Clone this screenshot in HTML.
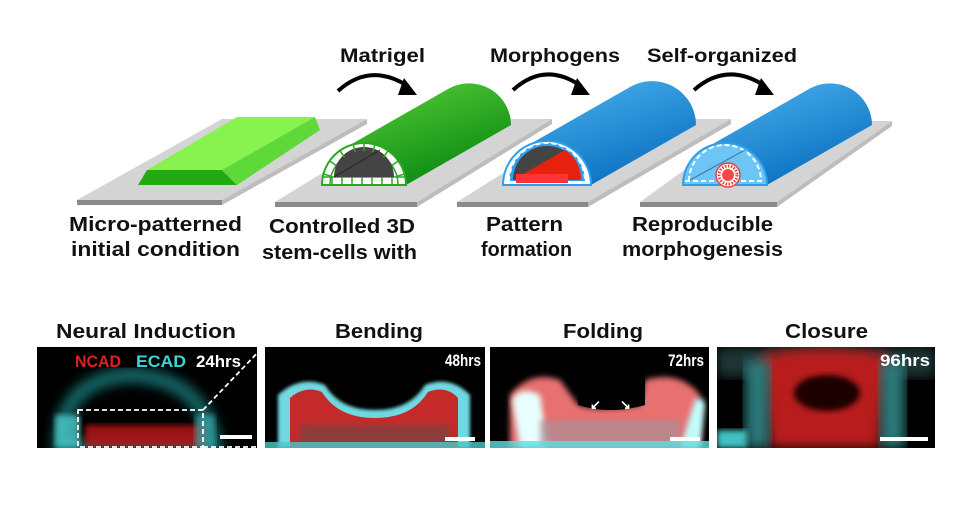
<!DOCTYPE html>
<html><head><meta charset="utf-8"><style>
html,body{margin:0;padding:0;background:#fff;}
svg{display:block;}
text{font-family:"Liberation Sans",sans-serif;font-weight:bold;fill:#111;}
</style></head><body>
<svg width="963" height="512" viewBox="0 0 963 512" xmlns="http://www.w3.org/2000/svg">
<defs>
<linearGradient id="gg" x1="0" y1="0" x2="0.6" y2="1"><stop offset="0" stop-color="#5fd43c"/><stop offset="1" stop-color="#0b8a12"/></linearGradient>
<linearGradient id="bg" x1="0" y1="0" x2="0.6" y2="1"><stop offset="0" stop-color="#52b9f2"/><stop offset="1" stop-color="#0a70c2"/></linearGradient>
<filter id="b3"><feGaussianBlur stdDeviation="3"/></filter>
<filter id="b6"><feGaussianBlur stdDeviation="6"/></filter>
<filter id="b2"><feGaussianBlur stdDeviation="1.5"/></filter>
<clipPath id="c1"><rect x="37" y="347" width="220" height="101"/></clipPath>
<clipPath id="c2"><rect x="265" y="347" width="220" height="101"/></clipPath>
<clipPath id="c3"><rect x="490" y="347" width="219" height="101"/></clipPath>
<clipPath id="c4"><rect x="717" y="347" width="218" height="101"/></clipPath>
</defs>

<!-- plates -->
<g>
<polygon points="222,119 367,119 222,200 77,200" fill="#d4d4d4"/>
<polygon points="77,200 222,200 222,205 77,205" fill="#8a8a8a"/>
<polygon points="367,119 367,124 222,205 222,200" fill="#bdbdbd"/>

<polygon points="410,119 552,119 417,202 275,202" fill="#d4d4d4"/>
<polygon points="275,202 417,202 417,207 275,207" fill="#8a8a8a"/>
<polygon points="552,119 552,124 417,207 417,202" fill="#bdbdbd"/>

<polygon points="590,119 731,119 588,202 457,202" fill="#d4d4d4"/>
<polygon points="457,202 588,202 588,207 457,207" fill="#8a8a8a"/>
<polygon points="731,119 731,124 588,207 588,202" fill="#bdbdbd"/>

<polygon points="752,121 892,121 777,202 640,202" fill="#d4d4d4"/>
<polygon points="640,202 777,202 777,207 640,207" fill="#8a8a8a"/>
<polygon points="892,121 892,126 777,207 777,202" fill="#bdbdbd"/>
</g>

<!-- slab 1 -->
<polygon points="147,170 222,170 315,117 237,117" fill="#88f24f"/>
<polygon points="138,185 237,185 222,170 147,170" fill="#22aa10"/>
<polygon points="222,170 237,185 320,130 315,117" fill="#5fd93a"/>

<!-- tube 2 green -->
<path d="M322,185 A42,42 0 0 1 343,149 L448,89 A42,42 0 0 1 511,125 L406,185 Z" fill="url(#gg)"/>
<path d="M322,185 A42,42 0 0 1 406,185 Z" fill="#fff" stroke="#2aa820" stroke-width="2"/>
<path d="M330,185 A34,34 0 0 1 398,185" fill="none" stroke="#2aa820" stroke-width="1.5"/>
<line x1="322" y1="177" x2="406" y2="177" stroke="#2aa820" stroke-width="1.5"/>
<path d="M334,177 A30,30 0 0 1 394,177 Z" fill="#444"/>
<line x1="334" y1="177" x2="380" y2="150" stroke="#222" stroke-width="1"/>
<g stroke="#2aa820" stroke-width="1.5">
<line x1="332" y1="177" x2="332" y2="185"/><line x1="342" y1="177" x2="342" y2="185"/><line x1="352" y1="177" x2="352" y2="185"/><line x1="362" y1="177" x2="362" y2="185"/><line x1="372" y1="177" x2="372" y2="185"/><line x1="382" y1="177" x2="382" y2="185"/><line x1="392" y1="177" x2="392" y2="185"/>
<line x1="396.8" y1="176.2" x2="404.6" y2="174.1"/><line x1="391.8" y1="165.5" x2="398.4" y2="160.9"/><line x1="383.5" y1="157.2" x2="388.1" y2="150.6"/><line x1="372.8" y1="152.2" x2="374.9" y2="144.4"/><line x1="364" y1="151" x2="364" y2="143"/><line x1="355.2" y1="152.2" x2="353.1" y2="144.4"/><line x1="344.5" y1="157.2" x2="339.9" y2="150.6"/><line x1="336.2" y1="165.5" x2="329.6" y2="160.9"/><line x1="331.2" y1="176.2" x2="323.4" y2="174.1"/>
</g>

<!-- tube 3 blue -->
<path d="M503,185 A44,44 0 0 1 525,147 L630,87 A44,44 0 0 1 696,125 L591,185 Z" fill="url(#bg)"/>
<path d="M503,185 A44,44 0 0 1 591,185 Z" fill="#fff" stroke="#2d9fee" stroke-width="2"/>
<path d="M509,181 A38,38 0 0 1 585,181 Z" fill="#2d9fee"/>
<path d="M513,180 A34,34 0 0 1 581,180 Z" fill="#444"/>
<path d="M513,180 L565,150 A34,34 0 0 1 581,180 Z" fill="#e8210f"/>
<rect x="516" y="174" width="52" height="9" fill="#f33"/>
<path d="M509,181 A38,38 0 0 1 585,181" fill="none" stroke="#fff" stroke-width="2" stroke-dasharray="5,3"/>

<!-- tube 4 blue -->
<path d="M683,185 A42,42 0 0 1 704,149 L809,89 A42,42 0 0 1 872,125 L767,185 Z" fill="url(#bg)"/>
<path d="M683,185 A42,42 0 0 1 767,185 Z" fill="#6cc5f4" stroke="#2d9fee" stroke-width="2"/>
<path d="M689,181 A36,36 0 0 1 761,181" fill="none" stroke="#fff" stroke-width="2" stroke-dasharray="5,3"/>
<line x1="685" y1="181" x2="765" y2="181" stroke="#fff" stroke-width="2" stroke-dasharray="5,3"/>
<line x1="690" y1="180" x2="745" y2="150" stroke="#3a7aa8" stroke-width="1"/>
<circle cx="728" cy="175" r="12" fill="#fff" stroke="#e84040" stroke-width="1.5"/>
<circle cx="728" cy="175" r="9" fill="none" stroke="#e84040" stroke-width="3" stroke-dasharray="1.5,1.5"/>
<circle cx="728" cy="175" r="6" fill="#f24848"/>

<!-- arrows -->
<g fill="none" stroke="#000" stroke-width="4">
<path d="M338,91 Q370,62 408,86"/>
<path d="M513,90 Q545,61 581,86"/>
<path d="M694,90 Q727,61 765,86"/>
</g>
<polygon points="404,78 417,95 398,95" fill="#000"/>
<polygon points="577,78 590,95 571,95" fill="#000"/>
<polygon points="761,78 774,95 755,95" fill="#000"/>

<text x="340" y="62" font-size="19" textLength="85" lengthAdjust="spacingAndGlyphs">Matrigel</text>
<text x="490" y="62" font-size="19" textLength="130" lengthAdjust="spacingAndGlyphs">Morphogens</text>
<text x="647" y="62" font-size="19" textLength="150" lengthAdjust="spacingAndGlyphs">Self-organized</text>

<g font-size="20">
<text x="69" y="231" textLength="173" lengthAdjust="spacingAndGlyphs">Micro-patterned</text>
<text x="71" y="256" textLength="169" lengthAdjust="spacingAndGlyphs">initial condition</text>
<text x="269" y="233" textLength="146" lengthAdjust="spacingAndGlyphs">Controlled 3D</text>
<text x="262" y="259" textLength="155" lengthAdjust="spacingAndGlyphs">stem-cells with</text>
<text x="486" y="231" textLength="77" lengthAdjust="spacingAndGlyphs">Pattern</text>
<text x="481" y="256" textLength="91" lengthAdjust="spacingAndGlyphs">formation</text>
<text x="632" y="231" textLength="141" lengthAdjust="spacingAndGlyphs">Reproducible</text>
<text x="622" y="256" textLength="161" lengthAdjust="spacingAndGlyphs">morphogenesis</text>
</g>

<g font-size="20">
<text x="56" y="338" textLength="180" lengthAdjust="spacingAndGlyphs">Neural Induction</text>
<text x="335" y="338" textLength="88" lengthAdjust="spacingAndGlyphs">Bending</text>
<text x="563" y="338" textLength="80" lengthAdjust="spacingAndGlyphs">Folding</text>
<text x="785" y="338" textLength="83" lengthAdjust="spacingAndGlyphs">Closure</text>
</g>

<!-- panel 1 -->
<g clip-path="url(#c1)">
<rect x="37" y="347" width="220" height="101" fill="#000"/>
<path d="M60,448 Q60,380 130,375 Q205,378 215,448 Z" fill="none" stroke="#1a8a8a" stroke-width="14" filter="url(#b6)" opacity="0.8"/>
<rect x="85" y="425" width="120" height="22" fill="#c01818" filter="url(#b3)" opacity="0.8"/>
<rect x="55" y="415" width="25" height="33" fill="#4ccccc" filter="url(#b3)" opacity="0.8"/>
<rect x="195" y="415" width="20" height="33" fill="#3aaaaa" filter="url(#b3)" opacity="0.7"/>
<rect x="220" y="435" width="32" height="4" fill="#fff"/>
</g>
<text x="75" y="367" font-size="17" style="fill:#e02020" textLength="46" lengthAdjust="spacingAndGlyphs">NCAD</text>
<text x="136" y="367" font-size="17" style="fill:#3ad6d6" textLength="50" lengthAdjust="spacingAndGlyphs">ECAD</text>
<text x="196" y="367" font-size="17" style="fill:#fff" textLength="45" lengthAdjust="spacingAndGlyphs">24hrs</text>
<g fill="none" stroke="#fff" stroke-width="1.8" stroke-dasharray="5,3">
<rect x="78" y="410" width="125" height="37"/>
<line x1="203" y1="410" x2="262" y2="348"/>
<line x1="203" y1="447" x2="262" y2="447"/>
</g>

<!-- panel 2 -->
<g clip-path="url(#c2)">
<rect x="265" y="347" width="220" height="101" fill="#000"/>
<path d="M278,448 L278,395 Q300,375 325,385 Q340,410 375,410 Q410,410 425,385 Q450,375 470,395 L470,448 Z" fill="#6fd8e0" filter="url(#b2)"/>
<path d="M290,448 L290,398 Q305,385 322,392 Q338,418 375,418 Q412,418 428,392 Q446,385 458,398 L458,448 Z" fill="#c42a2a"/>
<rect x="300" y="425" width="150" height="23" fill="#6a4a4a" opacity="0.6" filter="url(#b3)"/>
<rect x="265" y="442" width="220" height="6" fill="#4cc8c8" opacity="0.8"/>
<rect x="445" y="437" width="30" height="4" fill="#fff"/>
</g>
<text x="445" y="366" font-size="17" style="fill:#fff" textLength="36" lengthAdjust="spacingAndGlyphs">48hrs</text>

<!-- panel 3 -->
<g clip-path="url(#c3)">
<rect x="490" y="347" width="219" height="101" fill="#000"/>
<path d="M510,448 L510,395 Q530,370 560,380 L578,405 Q600,412 640,405 L645,380 Q680,370 700,395 L700,448 Z" fill="#e87070" filter="url(#b3)"/>
<path d="M520,448 L512,400 Q520,385 540,395 L548,448 Z" fill="#e8ffff" filter="url(#b3)"/>
<path d="M680,448 L695,400 Q703,395 705,405 L700,448 Z" fill="#c0ffff" filter="url(#b3)"/>
<path d="M578,372 L578,405 Q610,415 645,405 L645,372 Z" fill="#000"/>
<rect x="540" y="420" width="140" height="28" fill="#a89098" opacity="0.7" filter="url(#b3)"/>
<rect x="490" y="441" width="219" height="7" fill="#5ee0e0" opacity="0.8"/>
<rect x="670" y="437" width="30" height="4" fill="#fff"/>
</g>
<text x="590" y="409" font-size="13" style="fill:#fff">↙</text>
<text x="620" y="409" font-size="13" style="fill:#fff">↘</text>
<text x="668" y="366" font-size="17" style="fill:#fff" textLength="36" lengthAdjust="spacingAndGlyphs">72hrs</text>

<!-- panel 4 -->
<g clip-path="url(#c4)">
<rect x="717" y="347" width="218" height="101" fill="#000"/>
<rect x="717" y="347" width="218" height="30" fill="#1a3434" filter="url(#b6)"/>
<path d="M770,448 L760,355 Q825,340 890,355 L880,448 Z" fill="#b81c1c" filter="url(#b6)"/>
<rect x="745" y="360" width="25" height="88" fill="#2a7878" filter="url(#b6)"/>
<rect x="880" y="360" width="25" height="88" fill="#2a7878" filter="url(#b6)"/>
<ellipse cx="827" cy="393" rx="33" ry="18" fill="#1a0505" filter="url(#b3)"/>
<rect x="717" y="430" width="30" height="18" fill="#40c0c0" filter="url(#b3)"/>
<rect x="880" y="437" width="48" height="4" fill="#fff"/>
</g>
<text x="880" y="366" font-size="17" style="fill:#fff" textLength="50" lengthAdjust="spacingAndGlyphs">96hrs</text>
</svg>
</body></html>
